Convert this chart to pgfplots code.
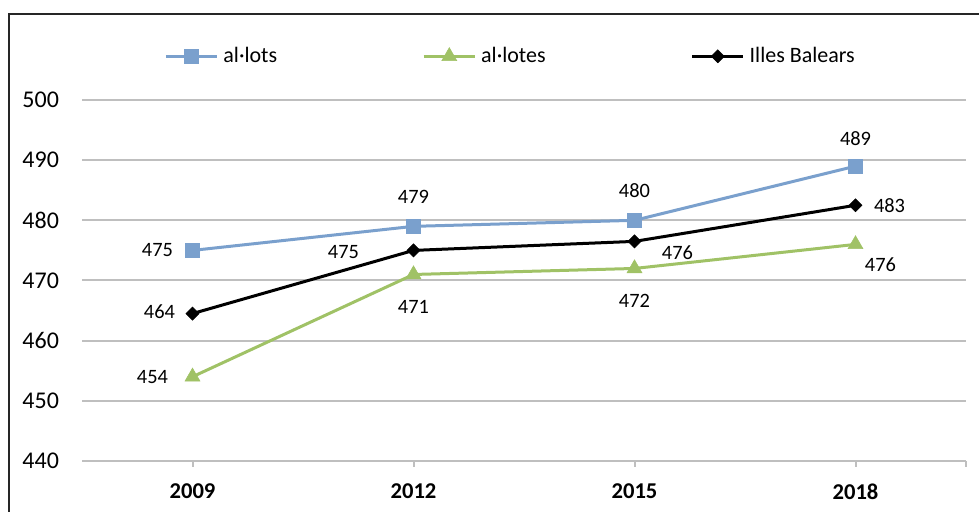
\documentclass[border=0pt]{standalone}
\usepackage{pgfplots}
\pgfplotsset{compat=1.18}
\usepackage{pgfplotstable}
\usepackage{fontspec}
\setmainfont{Carlito}
\definecolor{cblue}{RGB}{122,160,205}
\definecolor{cgreen}{RGB}{160,194,102}
\definecolor{cgrid}{RGB}{191,191,191}

\pgfplotstableread{
x y lbl dx dy
0 475 475 -17.5 0
1 479 479 0 14.5
2 480 480 0 15
3 489 489 0 14
}\lots
\pgfplotstableread{
x y lbl dx dy
0 454 454 -20 0
1 471 471 0 -16
2 472 472 0 -16
3 476 476 12.5 -10
}\lotes
\pgfplotstableread{
x y lbl dx dy
0 464.5 464 -16.5 1
1 475 475 -35 -1
2 476.5 476 21.5 -5.5
3 482.5 483 17 0
}\ib

\begin{document}
\begin{tikzpicture}
\path[use as bounding box] (0,0) rectangle (489.5pt,256pt);
\draw[line width=1pt, black!85] (4.25pt,0pt) -- (4.25pt,249pt) -- (489.5pt,249pt);
\begin{axis}[
  at={(41pt,25.5pt)}, anchor=south west,
  scale only axis, width=442pt, height=180.5pt,
  xmin=-0.5, xmax=3.5, ymin=440, ymax=500,
  xtick={0,1,2,3}, xticklabels={2009,2012,2015,2018},
  extra x ticks={3.5}, extra x tick labels={},
  extra x tick style={grid=none},
  ytick={440,450,...,500},
  ymajorgrids, grid style={cgrid, line width=1pt},
  axis line style={draw=none},
  xtick pos=bottom, ytick pos=left,
  tick align=outside,
  major tick length=3pt,
  xtick style={cgrid, line width=1pt},
  ytick style={draw=none},
  /pgf/number format/assume math mode=true,
  yticklabel style={font=\fontsize{12}{14}\selectfont, xshift=-5pt},
  xticklabel style={font=\fontsize{11.3}{13}\selectfont\bfseries, yshift=-5pt},
  clip=false,
  legend columns=3,
  legend style={at={(0.0928,1.121)}, anchor=west, draw=none, fill=none,
    inner sep=0pt, font=\fontsize{11}{13}\selectfont,
    nodes={inner xsep=0pt},
    /tikz/every odd column/.append style={column sep=2.5pt},
    /tikz/every even column/.append style={column sep=72.5pt}},
  legend image code/.code={%
    \draw[#1, mark repeat=2, mark phase=2] plot coordinates {(0pt,0pt) (12.8pt,0pt) (25.5pt,0pt)};},
  nodes near coords,
  point meta=explicit symbolic,
  visualization depends on={\thisrow{dx}\as\dx},
  visualization depends on={\thisrow{dy}\as\dy},
  every node near coord/.append style={anchor=center, xshift=\dx pt, yshift=\dy pt,
    font=\fontsize{10.2}{12}\selectfont, text=black},
]
\addplot[cblue, line width=1.5pt, mark=square*, mark size=3.5pt,
  mark options={line width=0.3pt, fill=cblue, draw=cblue}]
  table[x=x, y=y, meta=lbl]{\lots};
\addlegendentry{al·lots}
\addplot[cgreen, line width=1.5pt, mark=triangle*, mark size=4.3pt,
  mark options={line width=0.3pt, fill=cgreen, draw=cgreen}]
  table[x=x, y=y, meta=lbl]{\lotes};
\addlegendentry{al·lotes}
\addplot[black, line width=1.5pt, mark=square*, mark size=2.3pt,
  mark options={rotate=45, line width=0.3pt, fill=black, draw=black}]
  table[x=x, y=y, meta=lbl]{\ib};
\addlegendentry{Illes Balears}
\end{axis}
\end{tikzpicture}
\end{document}
